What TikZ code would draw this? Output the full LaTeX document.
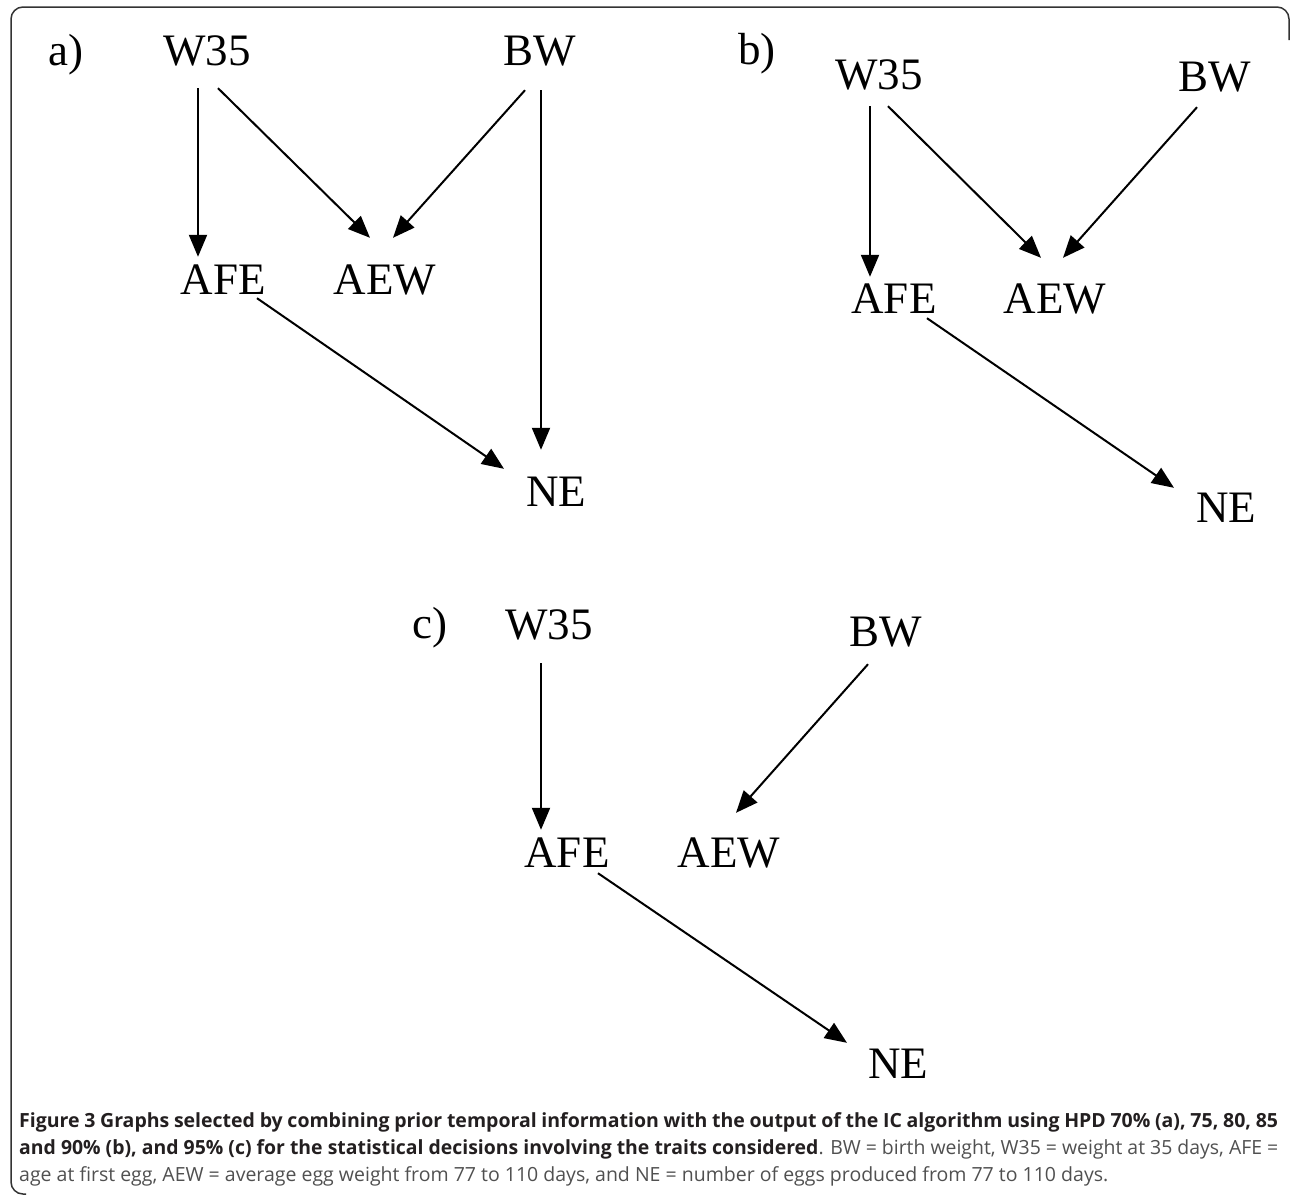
\documentclass[tikz,border=0pt]{standalone}
\usepackage{fontspec}
\setmainfont{Liberation Serif}
\newfontfamily\capfont{Open Sans}
\usepackage{xcolor}
\usetikzlibrary{arrows.meta, calc}

\definecolor{capdark}{HTML}{231F20}
\definecolor{capgray}{HTML}{505050}

\begin{document}
\begin{tikzpicture}[
      x=1pt, y=-1pt,
      trait/.style={font=\fontsize{45}{50}\selectfont, inner sep=0pt, text height=30pt, text depth=0pt, anchor=base},
      arr/.style={-{Triangle[length=22pt, width=18pt]}, line width=2pt},
      capline/.style={inner sep=0pt, anchor=base west, font=\capfont\fontsize{19.5}{24}\selectfont},
    ]
    \useasboundingbox (0,0) rectangle (1290,1195);
    \draw[line width=1.5pt, black!80, rounded corners=12pt] (26,1194) -| (11,7) -| (1289,40);

    % graph a)
    \node[trait] (taga) at (66,65) {a)};
    \node[trait] (w35a) at (207,65) {W35};
    \node[trait] (bwa) at (540,65) {BW};
    \node[trait] (afea) at (223.5,294) {AFE};
    \node[trait] (aewa) at (385,294) {AEW};
    \node[trait] (nea) at (556,506) {NE};

    \draw[arr] ($(w35a.south)+(-9,23)$) -- ($(afea.north)+(-25.5,-7)$);
    \draw[arr] ($(w35a.south)+(11,23)$) -- ($(aewa.north)+(-15,-26)$);
    \draw[arr] ($(bwa.south)+(-15,25)$) -- ($(aewa.north)+(8,-26)$);
    \draw[arr] ($(bwa.south)+(1,25)$) -- ($(nea.north)+(-15,-26)$);
    \draw[arr] ($(afea.south)+(33.5,4)$) -- ($(nea.north)+(-52,-7)$);

    % graph b)
    \node[trait] (tagb) at (757,64) {b)};
    \node[trait] (w35b) at (879,89) {W35};
    \node[trait] (bwb) at (1215,91) {BW};
    \node[trait] (afeb) at (894,313) {AFE};
    \node[trait] (aewb) at (1055,313) {AEW};
    \node[trait] (neb) at (1226,522) {NE};

    \draw[arr] ($(w35b.south)+(-9,17)$) -- ($(afeb.north)+(-24,-6)$);
    \draw[arr] ($(w35b.south)+(9,17)$) -- ($(aewb.north)+(-14,-25)$);
    \draw[arr] ($(bwb.south)+(-18,16)$) -- ($(aewb.north)+(8,-25)$);
    \draw[arr] ($(afeb.south)+(33,5)$) -- ($(neb.north)+(-52,-4)$);

    % graph c)
    \node[trait] (tagc) at (430,638) {c)};
    \node[trait] (w35c) at (549,639) {W35};
    \node[trait] (bwc) at (886,646) {BW};
    \node[trait] (afec) at (567,867) {AFE};
    \node[trait] (aewc) at (729,867) {AEW};
    \node[trait] (nec) at (898,1078) {NE};

    \draw[arr] ($(w35c.south)+(-8,24)$) -- ($(afec.north)+(-26,-7)$);
    \draw[arr] ($(bwc.south)+(-18,18)$) -- ($(aewc.north)+(7,-24)$);
    \draw[arr] ($(afec.south)+(31,6)$) -- ($(nec.north)+(-51,-5)$);

    % caption
    \node[capline, text=capdark] (cap1) at (19,1127)
      {\bfseries\makebox[1259pt][s]{Figure 3 Graphs selected by combining prior temporal information with the output of the IC algorithm using HPD 70\% (a), 75, 80, 85}};
    \node[capline, text=capdark] (cap2) at (19,1154)
      {\resizebox{1259pt}{\height}{\bfseries and 90\% (b), and 95\% (c) for the statistical decisions involving the traits considered\mdseries\color{capgray}. BW = birth weight, W35 = weight at 35 days, AFE =}};
    \node[capline, text=capgray] (cap3) at (19,1181)
      {age at first egg, AEW = average egg weight from 77 to 110 days, and NE = number of eggs produced from 77 to 110 days.};
  \end{tikzpicture}
\end{document}
